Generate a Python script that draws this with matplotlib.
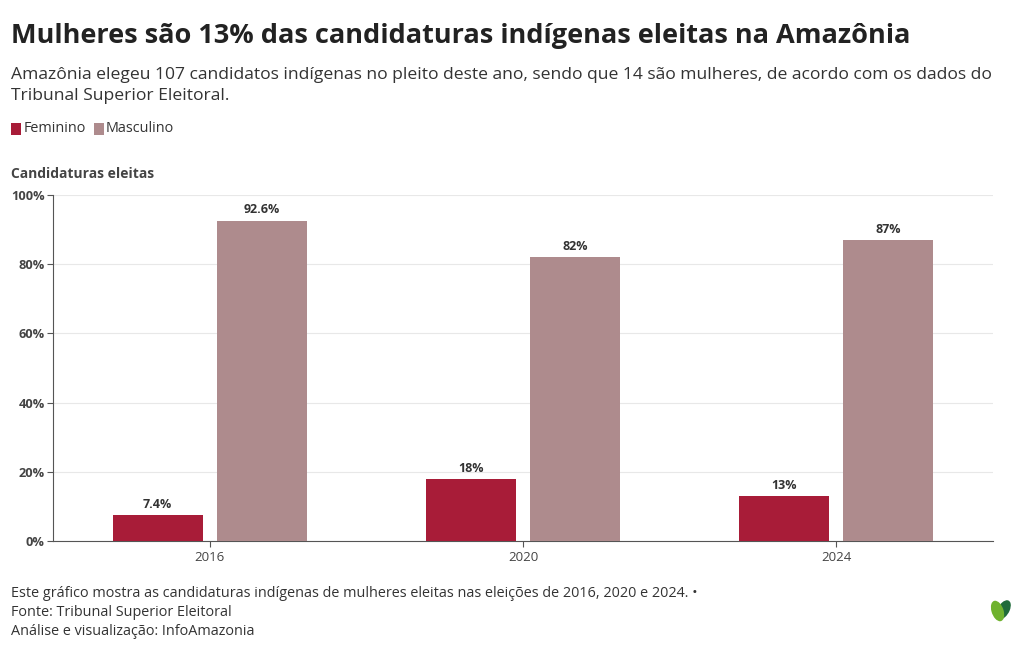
import numpy as np
import matplotlib.pyplot as plt
from matplotlib.patches import Ellipse, Rectangle

plt.rcParams['font.family'] = ['Open Sans', 'DejaVu Sans']

anos = ['2016', '2020', '2024']
feminino = [7.4, 18, 13]
masculino = [92.6, 82, 87]
rot_fem = ['7.4%', '18%', '13%']
rot_masc = ['92.6%', '82%', '87%']
yticks = [0, 20, 40, 60, 80, 100]

cor_fem = '#a81c38'
cor_masc = '#ae8b8d'
texto = '#333333'

fig = plt.figure(figsize=(10.2, 6.5), dpi=100)
ax = fig.add_axes([0.052, 0.1677, 0.9215, 0.5323])

x = np.arange(len(anos))
w = 0.2875
off = 0.166
b1 = ax.bar(x - off, feminino, w, color=cor_fem, zorder=3)
b2 = ax.bar(x + off, masculino, w, color=cor_masc, zorder=3)

for bars, labs in ((b1, rot_fem), (b2, rot_masc)):
    for b, l in zip(bars, labs):
        ax.text(b.get_x() + b.get_width() / 2, b.get_height() + 1.2, l,
                ha='center', va='bottom', fontsize=9, fontweight='bold', color=texto)

ax.set_xlim(-0.5, 2.5)
ax.set_ylim(0, 100)
ax.set_xticks(x)
ax.set_xticklabels(anos, fontsize=9.5, color='#444444')
ax.set_yticks(yticks)
ax.set_yticklabels([f'{v}%' for v in yticks], fontsize=9.2, fontweight='bold', color='#444444')
ax.grid(axis='y', color='#e8e8e8', linewidth=0.8, zorder=0)
for s in ['top', 'right']:
    ax.spines[s].set_visible(False)
ax.spines['left'].set_color('#555555')
ax.spines['bottom'].set_color('#555555')
ax.spines['left'].set_linewidth(0.8)
ax.spines['bottom'].set_linewidth(0.8)
ax.tick_params(axis='y', length=4, color='#555555', pad=2)
ax.tick_params(axis='x', length=4, color='#555555', pad=3)

fig.text(0.011, 0.945, 'Mulheres são 13% das candidaturas indígenas eleitas na Amazônia',
         fontsize=19.5, fontweight='bold', color='#222222', va='center')
fig.text(0.011, 0.885, 'Amazônia elegeu 107 candidatos indígenas no pleito deste ano, sendo que 14 são mulheres, de acordo com os dados do',
         fontsize=12.6, color=texto, va='center')
fig.text(0.011, 0.853, 'Tribunal Superior Eleitoral.', fontsize=12.6, color=texto, va='center')

# legenda
fig.patches.append(Rectangle((0.011, 0.793), 0.0095, 0.018, transform=fig.transFigure,
                             facecolor=cor_fem, figure=fig))
fig.text(0.023, 0.802, 'Feminino', fontsize=10.4, color=texto, va='center')
fig.patches.append(Rectangle((0.092, 0.793), 0.0095, 0.018, transform=fig.transFigure,
                             facecolor=cor_masc, figure=fig))
fig.text(0.104, 0.802, 'Masculino', fontsize=10.4, color=texto, va='center')

fig.text(0.011, 0.733, 'Candidaturas eleitas', fontsize=10, fontweight='bold', color='#444444', va='center')

fig.text(0.011, 0.087, 'Este gráfico mostra as candidaturas indígenas de mulheres eleitas nas eleições de 2016, 2020 e 2024. •',
         fontsize=10.4, color=texto, va='center')
fig.text(0.011, 0.058, 'Fonte: Tribunal Superior Eleitoral', fontsize=10.4, color=texto, va='center')
fig.text(0.011, 0.029, 'Análise e visualização: InfoAmazonia', fontsize=10.4, color=texto, va='center')

# logo
fig.patches.append(Ellipse((0.984, 0.062), 0.012, 0.03, angle=-15, transform=fig.transFigure,
                           facecolor='#1f6b3a', figure=fig))
fig.patches.append(Ellipse((0.978, 0.060), 0.012, 0.032, angle=10, transform=fig.transFigure,
                           facecolor='#6fb22e', figure=fig))

fig.savefig('out.png', dpi=100, facecolor='white')
